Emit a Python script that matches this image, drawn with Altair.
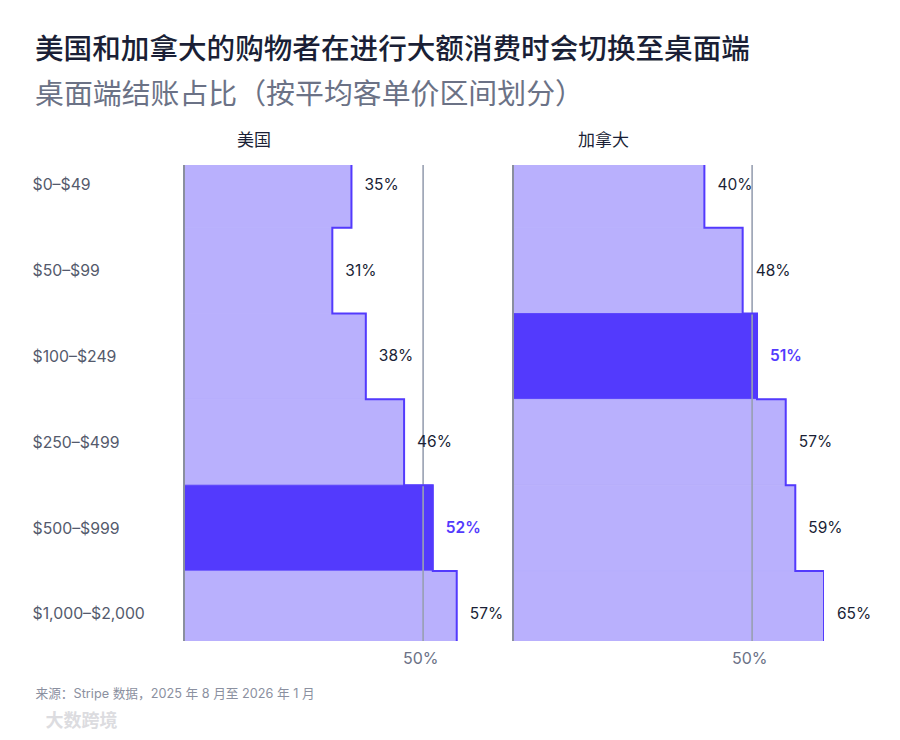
import json
import altair as alt
import pandas as pd

# ---------------- data ----------------
brackets = ["$0–$49", "$50–$99", "$100–$249", "$250–$499", "$500–$999", "$1,000–$2,000"]
us_values = [35, 31, 38, 46, 52, 57]
ca_values = [40, 48, 51, 57, 59, 65]
panels = ["美国", "加拿大"]
highlight = {"美国": "$500–$999", "加拿大": "$100–$249"}
reference_tick = [50]

title_text = "美国和加拿大的购物者在进行大额消费时会切换至桌面端"
subtitle_text = "桌面端结账占比（按平均客单价区间划分）"
source_text = "来源：Stripe 数据，2025 年 8 月至 2026 年 1 月"
watermark_text = "大数跨境"

# ---------------- style ----------------
FONT = "Inter, 'Noto Sans CJK SC', sans-serif"
LIGHT = "#b9b0fd"
DARK = "#533afd"
INK = "#1a1f36"
GREY = "#6b7286"
AXIS_GREY = "#8a8f9e"

W, H = 311, 476
X_DOMAIN = [0, 65]
Y_DOMAIN = [0.27, 5.815]

label_expr = json.dumps(brackets, ensure_ascii=False) + "[floor(datum.value)]"


def make_panel(name, values, show_y, title_dx, xtitle, xtitle_x, xtitle_y, xtitle_style):
    n = len(brackets)
    rows = pd.DataFrame({
        "bracket": brackets,
        "idx": list(range(n)),
        "value": values,
    })
    rows["top"] = rows["idx"]
    rows["bottom"] = rows["idx"] + 1
    rows["mid"] = rows["idx"] + 0.5
    rows["hl"] = rows["bracket"] == highlight[name]
    rows["label"] = rows["value"].astype(str) + "%"

    step_pts = []
    k = 0
    for i, v in enumerate(values):
        step_pts.append({"value": v, "yy": i, "k": k}); k += 1
        step_pts.append({"value": v, "yy": i + 1, "k": k}); k += 1
    steps = pd.DataFrame(step_pts)

    xscale = alt.Scale(domain=X_DOMAIN, nice=False, zero=True)
    yscale = alt.Scale(domain=Y_DOMAIN, nice=False, zero=False, reverse=True)

    xaxis = alt.Axis(
        values=reference_tick, labelExpr="datum.value + '%'",
        domain=False, ticks=False, grid=False,
        labelPadding=9, labelFontSize=16, labelColor=GREY, labelFont=FONT,
        labelOffset=-3,
        title=xtitle, titleX=xtitle_x, titleY=xtitle_y, titleAlign="left",
        titleAnchor="start", titleBaseline="middle", titleFont=FONT,
        **xtitle_style,
    )
    if show_y:
        yaxis = alt.Axis(
            values=[i + 0.5 for i in range(n)], labelExpr=label_expr,
            domain=False, ticks=False, tickSize=0, grid=False,
            labelAlign="left", labelBaseline="middle", labelPadding=152,
            labelFontSize=15.8, labelColor="#545a6c", labelFont=FONT, title=None,
        )
    else:
        yaxis = None

    base = alt.Chart(rows)
    fill_cond = alt.condition(alt.datum.hl, alt.value(DARK), alt.value(LIGHT))

    bars = base.mark_rect(clip=True, strokeWidth=0.8).encode(
        x=alt.X("value:Q", scale=xscale, axis=xaxis),
        x2=alt.X2(datum=0),
        y=alt.Y("top:Q", scale=yscale, axis=yaxis),
        y2="bottom:Q",
        fill=fill_cond,
        stroke=fill_cond,
    )

    ref = alt.Chart(rows).mark_rule(color="#9aa3b5", opacity=0.35, strokeWidth=1.5).encode(
        x=alt.X(datum=reference_tick[0], scale=xscale, axis=xaxis),
    )
    left = alt.Chart(rows).mark_rule(color=AXIS_GREY, strokeWidth=2).encode(
        x=alt.X(datum=0, scale=xscale, axis=xaxis),
    )

    outline = alt.Chart(steps).mark_line(clip=True, color=DARK, strokeWidth=2,
                                         strokeJoin="miter").encode(
        x=alt.X("value:Q", scale=xscale, axis=xaxis),
        y=alt.Y("yy:Q", scale=yscale, axis=yaxis),
        order="k:Q",
    )

    labels = base.transform_filter("!datum.hl").mark_text(
        align="left", baseline="middle", dx=13, fontSize=15.5, font=FONT, color=INK,
    ).encode(
        x=alt.X("value:Q", scale=xscale, axis=xaxis),
        y=alt.Y("mid:Q", scale=yscale, axis=yaxis),
        text="label:N",
    )
    labels_hl = base.transform_filter("datum.hl").mark_text(
        align="left", baseline="middle", dx=13, fontSize=15.5, font=FONT, color=DARK,
        fontWeight=600,
    ).encode(
        x=alt.X("value:Q", scale=xscale, axis=xaxis),
        y=alt.Y("mid:Q", scale=yscale, axis=yaxis),
        text="label:N",
    )

    return alt.layer(bars, ref, left, outline, labels, labels_hl).properties(
        width=W, height=H,
        title=alt.TitleParams(
            text=name, anchor="start", frame="group", dx=title_dx, offset=14,
            fontSize=17, fontWeight="normal", color=INK, font=FONT,
        ),
    )


us_panel = make_panel(
    panels[0], us_values, True, 53, source_text, -149, 52,
    dict(titleFontSize=12.7, titleColor="#8b90a0", titleFontWeight="normal"),
)
ca_panel = make_panel(
    panels[1], ca_values, False, 65, watermark_text, -468, 80,
    dict(titleFontSize=18, titleColor="#dcdce0", titleFontWeight="bold"),
)

chart = alt.hconcat(us_panel, ca_panel, spacing=18, bounds="flush").properties(
    title=alt.TitleParams(
        text=title_text, subtitle=subtitle_text, anchor="start", frame="bounds",
        fontSize=28.6, fontWeight=500, color=INK, font=FONT, dx=3,
        subtitleFontSize=28.9, subtitleColor=GREY, subtitleFontWeight="normal",
        subtitleFont=FONT, subtitlePadding=17, offset=22,
    ),
    padding={"left": 24, "top": 27, "right": 10, "bottom": 0},
).configure(
    background="white",
    view=alt.ViewConfig(stroke=None),
)

chart.save("out.html", embed_options={"renderer": "svg", "actions": False})
